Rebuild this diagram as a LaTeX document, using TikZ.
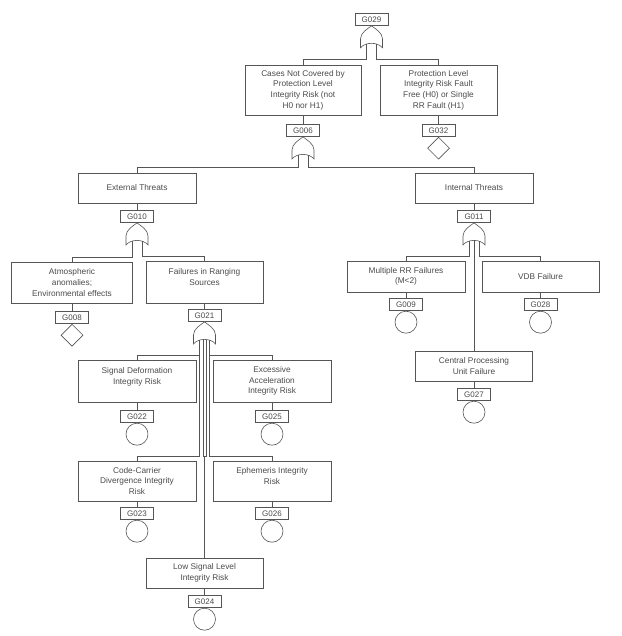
\documentclass[tikz,border=0pt]{standalone}
\usepackage{fontspec}
\setmainfont{Liberation Sans}
\usetikzlibrary{shapes.geometric,positioning,calc}
\definecolor{linegray}{HTML}{555555}
\definecolor{textgray}{HTML}{4A4A4A}

\begin{document}
\begin{tikzpicture}[
    x=1pt, y=-1pt,
    node distance=7pt,
    box/.style={rectangle, draw=linegray, line width=0.6pt, text=textgray, align=center, inner sep=1pt, minimum width=118pt, font=\fontsize{8.3}{10.7}\selectfont},
    gatetag/.style={rectangle, draw=linegray, line width=0.6pt, text=textgray, minimum width=33pt, minimum height=12pt, inner sep=0pt, font=\fontsize{8}{9}\selectfont},
    basicev/.style={circle, draw=linegray, line width=0.6pt, minimum size=22pt, inner sep=0pt},
    undev/.style={diamond, draw=linegray, line width=0.6pt, minimum width=22pt, minimum height=22pt, inner sep=0pt},
    wire/.style={draw=linegray, line width=0.6pt},
    gateline/.style={draw=linegray, line width=0.6pt, fill=white},
    orgate/.pic={
        \draw[gateline] (0,0) .. controls (4,3) and (11,7) .. (11,13) -- (11,22)
            .. controls (6,16) and (-6,16) .. (-11,22) -- (-11,13)
            .. controls (-11,7) and (-4,3) .. cycle;
        \coordinate (-l) at (-5,18.2);
        \coordinate (-r) at (5,18.2);
        \coordinate (-c) at (0,17.5);
    }
]
\useasboundingbox (0,0) rectangle (621,636);

% Top event
\node[gatetag] (g029) at (371.5,19.5) {G029};
\pic (gt029) at (g029.south) {orgate};

% Second level
\node[box, minimum width=116pt, minimum height=50pt] (cases) at (303,90) {Cases Not Covered by\\Protection Level\\Integrity Risk (not\\H0 nor H1)};
\node[box, minimum width=117pt, minimum height=50pt] (plfree) at (438.5,90) {Protection Level\\Integrity Risk Fault\\Free (H0) or Single\\RR Fault (H1)};
\node[gatetag, below=9pt of cases] (g006) {G006};
\node[gatetag, below=9pt of plfree] (g032) {G032};
\node[undev, below=0pt of g032] (e032) {};
\pic (gt006) at (g006.south) {orgate};

% Threats
\node[box, minimum height=30pt] (ext) at (137,188) {External Threats};
\node[box, minimum height=30pt] (int) at (474,188) {Internal Threats};
\node[gatetag, below=of ext] (g010) {G010};
\node[gatetag, below=of int] (g011) {G011};
\pic (gt010) at (g010.south) {orgate};
\pic (gt011) at (g011.south) {orgate};

% External threats branch
\node[box, minimum width=121pt, minimum height=41pt] (atmo) at (72,282.5) {Atmospheric\\anomalies;\\Environmental effects};
\node[box, minimum width=117pt, minimum height=42pt] (fail) at (204.5,282) {Failures in Ranging\\Sources\\~};
\node[gatetag, below=8pt of atmo] (g008) {G008};
\node[undev, below=0pt of g008] (e008) {};
\node[gatetag, below=6pt of fail] (g021) {G021};
\pic (gt021) at (g021.south) {orgate};

% Internal threats branch
\node[box, minimum height=31pt] (multi) at (406,276.5) {Multiple RR Failures\\(M<2)};
\node[box, minimum width=117pt, minimum height=31pt] (vdb) at (540.5,276.5) {VDB Failure};
\node[box, minimum width=117pt, minimum height=30pt] (cpu) at (474,366) {Central Processing\\Unit Failure};
\node[gatetag, below=6pt of multi] (g009) {G009};
\node[gatetag, below=6pt of vdb] (g028) {G028};
\node[gatetag, below=of cpu] (g027) {G027};
\node[basicev, below=0pt of g009] (e009) {};
\node[basicev, below=0pt of g028] (e028) {};
\node[basicev, below=0pt of g027] (e027) {};

% Ranging source failures
\node[box, minimum height=42pt] (sigdef) at (137,381) {Signal Deformation\\Integrity Risk\\~};
\node[box, minimum height=42pt] (excacc) at (272,381) {Excessive\\Acceleration\\Integrity Risk};
\node[box, minimum height=40pt] (codecar) at (137,481) {Code-Carrier\\Divergence Integrity\\Risk};
\node[box, minimum height=40pt] (ephem) at (272,481) {Ephemeris Integrity\\Risk\\~};
\node[box, minimum width=117pt, minimum height=30pt] (lowsig) at (204.5,573) {Low Signal Level\\Integrity Risk};
\node[gatetag, below=8pt of sigdef] (g022) {G022};
\node[gatetag, below=8pt of excacc] (g025) {G025};
\node[gatetag, below=6pt of codecar] (g023) {G023};
\node[gatetag, below=6pt of ephem] (g026) {G026};
\node[gatetag, below=of lowsig] (g024) {G024};
\node[basicev, below=0pt of g022] (e022) {};
\node[basicev, below=0pt of g025] (e025) {};
\node[basicev, below=0pt of g023] (e023) {};
\node[basicev, below=0pt of g026] (e026) {};
\node[basicev, below=0pt of g024] (e024) {};

% Boxes to their tags
\foreach \b/\t in {cases/g006, plfree/g032, ext/g010, int/g011, atmo/g008, fail/g021,
    multi/g009, vdb/g028, cpu/g027, sigdef/g022, excacc/g025, codecar/g023, ephem/g026, lowsig/g024}
    \draw[wire] (\b) -- (\t);

% Gate outputs
\draw[wire] (gt029-l) |- ($(cases.north)+(0,-5)$) -- (cases.north);
\draw[wire] (gt029-r) |- ($(plfree.north)+(0,-5)$) -- (plfree.north);
\draw[wire] (gt006-l) |- ($(ext.north)+(0,-5)$) -- (ext.north);
\draw[wire] (gt006-r) |- ($(int.north)+(0,-5)$) -- (int.north);
\draw[wire] (gt010-l) |- ($(atmo.north)+(0,-4.5)$) -- (atmo.north);
\draw[wire] (gt010-r) |- ($(fail.north)+(0,-4.5)$) -- (fail.north);
\draw[wire] (gt011-l) |- ($(multi.north)+(0,-4.5)$) -- (multi.north);
\draw[wire] (gt011-r) |- ($(vdb.north)+(0,-4.5)$) -- (vdb.north);
\draw[wire] (gt011-c) -- (cpu.north);
\draw[wire] (gt021-l) |- ($(sigdef.north)+(0,-4)$) -- (sigdef.north);
\draw[wire] (gt021-l) |- ($(codecar.north)+(0,-4)$) -- (codecar.north);
\draw[wire] (gt021-r) |- ($(excacc.north)+(0,-4)$) -- (excacc.north);
\draw[wire] (gt021-r) |- ($(ephem.north)+(0,-4)$) -- (ephem.north);
\coordinate (m021) at ($(gt021-c |- codecar.north)+(0,-4)$);
\draw[wire] ($(gt021-c)+(-1.5,0.4)$) -- ($(m021)+(-1.5,0)$) -- (m021) -- (lowsig.north);
\draw[wire] ($(gt021-c)+(1.5,0.4)$) -- ($(m021)+(1.5,0)$) -- (m021);

\end{tikzpicture}
\end{document}
